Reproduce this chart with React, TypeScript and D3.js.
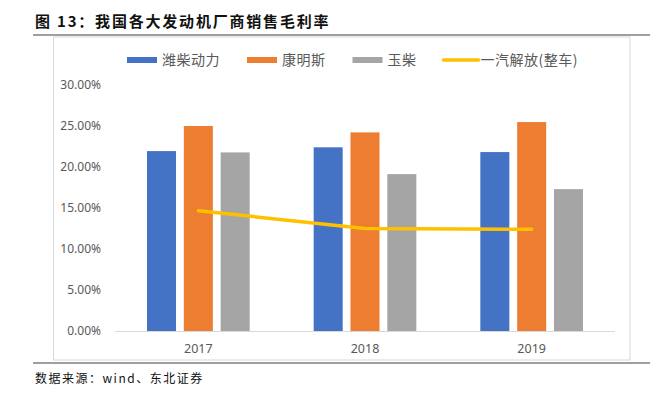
import * as d3 from 'd3';

const WIDTH = 658;
const HEIGHT = 396;
const PLOT = { left: 115, right: 615, top: 85, bottom: 331 };

const years = ['2017', '2018', '2019'];
const barSeries = ['潍柴动力', '康明斯', '玉柴'];
const barColors = ['#4472C4', '#ED7D31', '#A5A5A5'];
const weichai = [21.94, 22.4, 21.82];
const cummins = [25.0, 24.22, 25.48];
const yuchai = [21.78, 19.13, 17.3];
const faw = [14.67, 12.5, 12.4];
const lineName = '一汽解放(整车)';
const lineColor = '#FFC000';
const yTicks = [0, 5, 10, 15, 20, 25, 30];

const FONT = '"Noto Sans CJK SC", "Noto Sans", sans-serif';
const TEXT_GRAY = '#595959';

export default function App() {
  const barValues = [weichai, cummins, yuchai];

  const x0 = d3.scaleBand().domain(years).range([PLOT.left, PLOT.right]).padding(0);
  const bw = x0.bandwidth();
  const groupPad = bw * 0.192;
  const x1 = d3
    .scaleBand()
    .domain(barSeries)
    .range([groupPad, bw - groupPad])
    .paddingInner(0.212)
    .paddingOuter(0);
  const y = d3.scaleLinear().domain([0, 30]).range([PLOT.bottom, PLOT.top]);

  const line = d3
    .line<number>()
    .x((_, i) => (x0(years[i]) ?? 0) + bw / 2)
    .y((d) => y(d));

  // legend layout: swatch + label, spaced by estimated text width
  const legendItems = [
    ...barSeries.map((name, i) => ({ name, color: barColors[i], kind: 'bar' })),
    { name: lineName, color: lineColor, kind: 'line' },
  ];
  const charW = 14.5;
  const textWidth = (s: string) =>
    Array.from(s).reduce((w, c) => w + (/[()]/.test(c) ? 5 : charW), 0);
  let lx = 127;
  const legendPos = legendItems.map((it) => {
    const pos = lx;
    lx += 35 + textWidth(it.name) + 27;
    return pos;
  });
  const legendY = 60;

  return (
    <svg
      width={WIDTH}
      height={HEIGHT}
      style={{ position: 'absolute', left: 0, top: 0, background: '#fff' }}
      fontFamily={FONT}
    >
      {/* title */}
      <text x={35} y={27} fontSize={15} fontWeight="bold" letterSpacing={1.8} fill="#111">
        图 13：我国各大发动机厂商销售毛利率
      </text>
      <line x1={33} x2={650} y1={35} y2={35} stroke="#404040" strokeWidth={1.2} />

      {/* chart frame */}
      <rect x={53.5} y={37} width={576.5} height={323} fill="#fff" stroke="#d9d9d9" strokeWidth={1} />

      {/* legend */}
      {legendItems.map((it, i) => (
        <g key={it.name} transform={`translate(${legendPos[i]},${legendY})`}>
          {it.kind === 'bar' ? (
            <rect x={0} y={-3} width={30} height={6} fill={it.color} />
          ) : (
            <line x1={0} x2={35} y1={0} y2={0} stroke={it.color} strokeWidth={3.5} strokeLinecap="round" />
          )}
          <text
            x={it.kind === 'bar' ? 35 : 37}
            y={0}
            dy="0.35em"
            fontSize={14}
            letterSpacing={0.5}
            fill={TEXT_GRAY}
          >
            {it.name}
          </text>
        </g>
      ))}

      {/* y axis labels */}
      {yTicks.map((t) => (
        <text
          key={t}
          x={101}
          y={y(t)}
          dy="0.35em"
          textAnchor="end"
          fontSize={12}
          fontFamily='"Noto Sans", sans-serif'
          fill={TEXT_GRAY}
        >
          {t.toFixed(2)}%
        </text>
      ))}

      {/* bars */}
      {years.map((yr, yi) => (
        <g key={yr} transform={`translate(${x0(yr)},0)`}>
          {barSeries.map((s, si) => (
            <rect
              key={s}
              x={x1(s)}
              y={y(barValues[si][yi])}
              width={x1.bandwidth()}
              height={y(0) - y(barValues[si][yi])}
              fill={barColors[si]}
            />
          ))}
        </g>
      ))}

      {/* x axis */}
      <line x1={PLOT.left} x2={PLOT.right} y1={y(0) + 0.5} y2={y(0) + 0.5} stroke="#d9d9d9" strokeWidth={1} />
      {years.map((yr) => (
        <text
          key={yr}
          x={(x0(yr) ?? 0) + bw / 2}
          y={353}
          textAnchor="middle"
          fontSize={12.5}
          fontFamily='"Noto Sans", sans-serif'
          fill={TEXT_GRAY}
        >
          {yr}
        </text>
      ))}

      {/* line series */}
      <path
        d={line(faw) ?? ''}
        fill="none"
        stroke={lineColor}
        strokeWidth={3.5}
        strokeLinecap="round"
        strokeLinejoin="round"
      />

      {/* source */}
      <line x1={33} x2={650} y1={363} y2={363} stroke="#404040" strokeWidth={1.2} />
      <text x={35} y={383} fontSize={12} letterSpacing={1.5} fill="#111">
        数据来源：wind、东北证券
      </text>
    </svg>
  );
}
